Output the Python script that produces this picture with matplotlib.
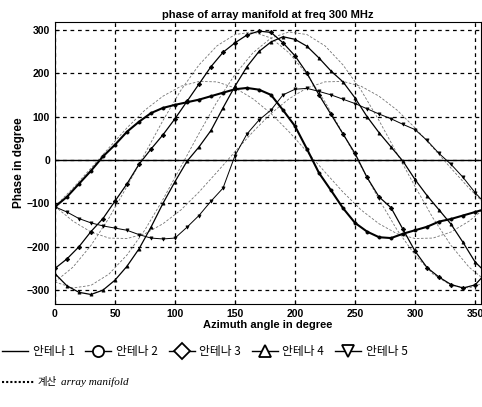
import matplotlib
matplotlib.use('Agg')
import matplotlib.pyplot as plt
from matplotlib.lines import Line2D

plt.rcParams['font.family'] = ['Liberation Sans', 'DejaVu Sans']

# measured phase (deg), sampled every 10 deg of azimuth
azimuth = list(range(0, 361, 10))
ant1 = [0] * len(azimuth)
ant2 = [-108, -85, -55, -25, 8, 35, 65, 88, 108, 120, 127, 133, 139, 147, 155, 163, 166, 162, 150,
        115, 78, 25, -30, -70, -111, -145, -165, -178, -180, -170, -162, -154, -142, -136, -128, -120, -112]
ant3 = [-250, -228, -200, -165, -135, -95, -55, -10, 25, 58, 95, 135, 175, 215, 248, 270, 288, 297, 294,
        270, 240, 200, 150, 105, 60, 15, -40, -85, -110, -160, -210, -248, -270, -287, -295, -288, -258]
ant4 = [-262, -290, -305, -310, -300, -277, -245, -205, -155, -100, -50, -3, 30, 68, 120, 170, 215, 250, 272,
        284, 278, 262, 235, 205, 180, 143, 100, 63, 30, -3, -45, -82, -115, -148, -190, -235, -262]
ant5 = [-108, -120, -135, -145, -152, -157, -162, -172, -180, -182, -180, -155, -128, -95, -65, 10, 60, 92, 115,
        150, 163, 165, 158, 150, 140, 130, 118, 106, 95, 82, 70, 45, 15, -10, -40, -75, -105]

# computed array manifold, sampled every 15 deg
azimuth_calc = list(range(0, 361, 15))
calc2 = [-107, -65, -19, 28, 74, 115, 147, 170, 181, 180, 166, 141, 107, 65, 19, -28, -74, -115, -147, -170,
         -181, -180, -166, -141, -107]
calc3 = [-281, -247, -197, -134, -61, 15, 91, 161, 219, 263, 289, 295, 281, 247, 197, 134, 61, -15, -91, -161,
         -219, -263, -289, -295, -281]
calc4 = [-281, -295, -289, -263, -219, -161, -91, -15, 61, 134, 197, 247, 281, 295, 289, 263, 219, 161, 91, 15,
         -61, -134, -197, -247, -281]
calc5 = [-107, -141, -166, -180, -181, -170, -147, -115, -74, -28, 19, 65, 107, 141, 166, 180, 181, 170, 147,
         115, 74, 28, -19, -65, -107]

labels = ['안테나 1', '안테나 2', '안테나 3', '안테나 4', '안테나 5']
markers = [None, 'o', 'D', '^', 'v']
widths = [1.0, 1.5, 0.9, 0.9, 0.7]

fig = plt.figure(figsize=(4.82, 4.07), dpi=100)
ax = fig.add_axes([0.114, 0.253, 0.884, 0.693])

for calc in [calc2, calc3, calc4, calc5]:
    ax.plot(azimuth_calc, calc, color='0.45', lw=0.6, dashes=(3, 2))

handles = []
for vals, lab, mk, lw in zip([ant1, ant2, ant3, ant4, ant5], labels, markers, widths):
    ax.plot(azimuth, vals, color='black', lw=lw, marker=mk, markersize=2.3,
            markerfacecolor='black', markeredgewidth=0.5)
    handles.append(Line2D([], [], color='black', lw=1.0, marker=mk, markersize=8,
                          markerfacecolor='white', markeredgewidth=1.3))

ax.set_xlim(0, 355)
ax.set_ylim(-332, 318)
ax.set_xticks(range(0, 351, 50))
ax.set_yticks(range(-300, 301, 100))
ax.grid(True, color='black', linestyle=(0, (3, 3)), lw=0.9)
ax.tick_params(labelsize=7.5, direction='in', length=3)
for t in ax.get_xticklabels() + ax.get_yticklabels():
    t.set_fontweight('bold')
ax.set_title('phase of array manifold at freq 300 MHz', fontsize=8, fontweight='bold', pad=3)
ax.set_xlabel('Azimuth angle in degree', fontsize=8, fontweight='bold', labelpad=1)
ax.set_ylabel('Phase in degree', fontsize=8.5, fontweight='bold', labelpad=1)

fig.legend(handles, labels, ncol=5, frameon=False, loc='center',
           bbox_to_anchor=(0.425, 1 - 352 / 407), handlelength=2.2, handletextpad=0.4,
           columnspacing=0.9, prop={'family': ['Noto Sans CJK KR', 'DejaVu Sans'], 'size': 8.5})

fig.add_artist(Line2D([0.005, 0.07], [1 - 382 / 407] * 2, transform=fig.transFigure,
                      color='black', lw=1.5, linestyle=(0, (1, 1))))
fig.text(0.078, 1 - 382 / 407, '계산', fontsize=7.5, va='center',
         family=['Noto Sans CJK KR', 'DejaVu Sans'])
fig.text(0.127, 1 - 382 / 407, 'array manifold', fontsize=8, va='center',
         family='Liberation Serif', style='italic')

fig.savefig('out.png', dpi=100)
